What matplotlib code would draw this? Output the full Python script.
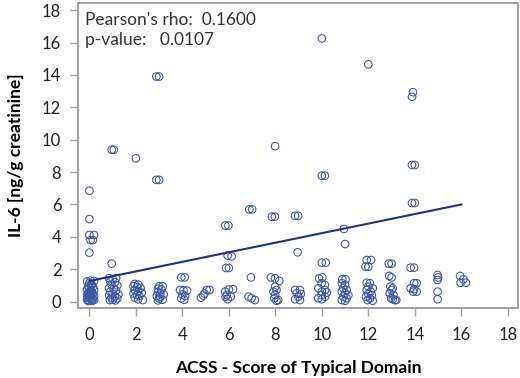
import matplotlib
matplotlib.use("Agg")
import matplotlib.pyplot as plt

plt.rcParams['font.family'] = ['Lato', 'DejaVu Sans']

# ---- data (x includes the visible horizontal jitter) ----
score = [
    # 0
    0.0, 0.0, 0.0, 0.2, 0.05, 0.15, 0.0,
    -0.1, 0.05, 0.2, 0.0, 0.1, -0.05, 0.15, 0.0, -0.1, 0.05, 0.2, 0.1, -0.05, 0.15, 0.0,
    -0.1, 0.08, 0.2, 0.0, -0.08, 0.12, 0.05, -0.1, 0.2, 0.0, 0.1, -0.05, 0.15, 0.02, 0.08,
    # 1
    0.96, 1.05, 0.96,
    0.85, 1.0, 1.15, 0.9, 1.1, 0.95, 1.2, 0.85, 1.05, 1.15, 0.9, 1.0, 1.25, 0.85, 1.1,
    0.95, 1.2, 1.0, 0.88, 1.12,
    # 2
    2.0,
    1.95, 2.1, 1.9, 2.05, 2.2, 1.95, 2.1, 2.25, 1.9, 2.05, 2.15, 1.95, 2.1, 2.3,
    # 3
    2.88, 3.0, 2.88, 3.0,
    3.0, 3.15, 2.95, 3.1, 2.95, 3.05, 3.2, 2.9, 3.05, 3.0, 3.15, 2.95,
    # 4
    3.95, 4.1, 3.9, 4.05, 4.2, 4.0, 4.12, 3.95, 4.08,
    # 5
    4.8, 4.9, 5.05, 5.17, 4.95,
    # 6
    5.85, 5.98, 5.95, 6.12, 5.88, 6.0, 5.84, 6.0, 6.18, 5.91, 6.08, 5.86, 5.95,
    # 7
    6.88, 7.0, 6.95, 6.85, 6.98, 7.12,
    # 8
    7.99, 7.85, 7.98, 7.81, 7.99, 8.17, 7.99, 8.05, 7.92, 7.99, 7.96, 8.05, 8.12,
    # 9
    8.85, 8.98, 8.96, 8.85, 9.06, 8.92, 9.1, 8.99, 8.85, 9.06,
    # 10
    10.0, 10.0, 10.13, 10.0, 10.17, 9.88, 10.02,
    9.99, 10.13, 9.85, 10.14, 10.0, 10.21, 9.99, 10.14, 9.85, 10.0,
    # 11
    10.95, 11.0, 10.88, 11.02,
    10.86, 11.0, 10.92, 11.07, 10.86, 11.0, 11.14, 10.93, 11.07, 10.86, 11.0,
    # 12
    12.0, 11.93, 12.12, 11.88, 12.0,
    11.93, 12.07, 12.0, 12.19, 11.93, 12.1, 12.0, 12.15, 11.9, 12.07, 11.97, 12.19,
    # 13
    12.88, 13.0, 12.9, 13.0,
    12.95, 13.05, 13.0, 12.92, 13.08, 12.98, 13.05, 13.15, 13.2,
    # 14
    13.92, 13.88, 13.88, 14.0, 13.88, 14.0, 13.82, 13.97, 13.97, 14.08, 13.82, 13.97, 14.08, 13.93,
    # 15
    14.98, 15.0, 14.98, 14.98, 14.98,
    # 16
    15.95, 16.09, 16.2, 15.97,
]

il6 = [
    # 0
    6.85, 5.1, 4.12, 4.12, 3.8, 3.8, 3.03,
    1.25, 1.3, 1.28, 1.15, 1.05, 0.95, 0.9, 0.85, 0.75, 0.7, 0.72, 0.62, 0.55, 0.5, 0.45,
    0.4, 0.38, 0.35, 0.3, 0.25, 0.22, 0.18, 0.12, 0.1, 0.08, 0.05, 0.04, 0.15, 0.6, 0.98,
    # 1
    9.38, 9.38, 2.35,
    1.45, 1.4, 1.45, 1.25, 1.2, 1.05, 1.0, 0.85, 0.8, 0.7, 0.62, 0.5, 0.45, 0.4, 0.32,
    0.25, 0.2, 0.12, 0.1, 0.08,
    # 2
    8.85,
    1.1, 1.05, 0.95, 0.9, 0.85, 0.72, 0.65, 0.55, 0.5, 0.42, 0.35, 0.25, 0.15, 0.1,
    # 3
    13.9, 13.9, 7.52, 7.52,
    0.95, 0.95, 0.8, 0.75, 0.6, 0.5, 0.45, 0.35, 0.3, 0.2, 0.12, 0.08,
    # 4
    1.5, 1.5, 0.72, 0.7, 0.68, 0.45, 0.35, 0.2, 0.12,
    # 5
    0.25, 0.38, 0.72, 0.72, 0.5,
    # 6
    4.7, 4.7, 2.85, 2.8, 2.08, 2.08, 0.62, 0.75, 0.77, 0.41, 0.31, 0.3, 0.15,
    # 7
    5.7, 5.7, 1.5, 0.31, 0.21, 0.1,
    # 8
    9.6, 5.25, 5.25, 1.5, 1.44, 1.28, 0.93, 0.72, 0.62, 0.41, 0.21, 0.06, 0.1,
    # 9
    5.3, 5.3, 3.05, 0.72, 0.72, 0.52, 0.48, 0.31, 0.15, 0.1,
    # 10
    16.25, 7.78, 7.78, 2.41, 2.41, 1.44, 1.5,
    1.14, 1.03, 0.83, 0.72, 0.62, 0.56, 0.41, 0.31, 0.21, 0.15,
    # 11
    4.49, 3.56, 1.38, 1.38,
    1.14, 1.03, 0.83, 0.72, 0.62, 0.52, 0.41, 0.31, 0.21, 0.1, 0.06,
    # 12
    14.65, 2.57, 2.57, 2.16, 2.16,
    1.17, 1.14, 0.93, 0.83, 0.72, 0.62, 0.48, 0.41, 0.31, 0.21, 0.1, 0.06,
    # 13
    2.35, 2.35, 1.59, 1.5,
    0.93, 0.83, 0.72, 0.52, 0.41, 0.21, 0.15, 0.1, 0.1,
    # 14
    12.93, 12.65, 8.44, 8.44, 6.09, 6.09, 2.1, 2.1, 1.14, 1.14, 0.83, 0.77, 0.62, 0.62,
    # 15
    1.65, 1.5, 1.34, 0.62, 0.15,
    # 16
    1.59, 1.38, 1.17, 1.17,
]

fit_intercept = 1.28
fit_slope = 0.295
fit_range = [0, 16]

x_ticks = [0, 2, 4, 6, 8, 10, 12, 14, 16, 18]
y_ticks = [0, 2, 4, 6, 8, 10, 12, 14, 16, 18]

rho_text = "Pearson's rho:  0.1600"
p_text = "p-value:   0.0107"

# ---- figure ----
fig = plt.figure(figsize=(5.2, 3.78), dpi=100)
ax = fig.add_axes([78 / 520, 1 - 308 / 378, 440 / 520, 305 / 378])

pt_color = "#3a56a5"
line_color = "#1a3585"
spine_color = "#a0a0a0"

ax.scatter(score, il6, s=30, facecolors="none", edgecolors=pt_color, linewidths=0.75, zorder=3)
fx = fit_range
fy = [fit_intercept + fit_slope * v for v in fx]
ax.plot(fx, fy, color=line_color, linewidth=1.5, zorder=4)

ax.set_xlim(-0.49, 18.44)
ax.set_ylim(-0.39, 18.44)
ax.set_xticks(x_ticks)
ax.set_yticks(y_ticks)
ax.tick_params(axis="both", direction="out", length=6, width=1.0, color=spine_color,
               labelsize=12, labelcolor="#222222")
ax.tick_params(axis="x", pad=8)
ax.tick_params(axis="y", pad=6)
for sp in ax.spines.values():
    sp.set_color(spine_color)
    sp.set_linewidth(1.4)

ax.set_xlabel("ACSS - Score of Typical Domain", fontsize=12.5, fontweight="bold", labelpad=12)
ax.set_ylabel("IL-6 [ng/g creatinine]", fontsize=12.5, fontweight="bold", labelpad=13)

ax.text(0.015, 0.972, rho_text, transform=ax.transAxes, ha="left", va="top", fontsize=12.5, color="#333333")
ax.text(0.015, 0.905, p_text, transform=ax.transAxes, ha="left", va="top", fontsize=12.5, color="#333333")

fig.savefig("out.png", dpi=100)
